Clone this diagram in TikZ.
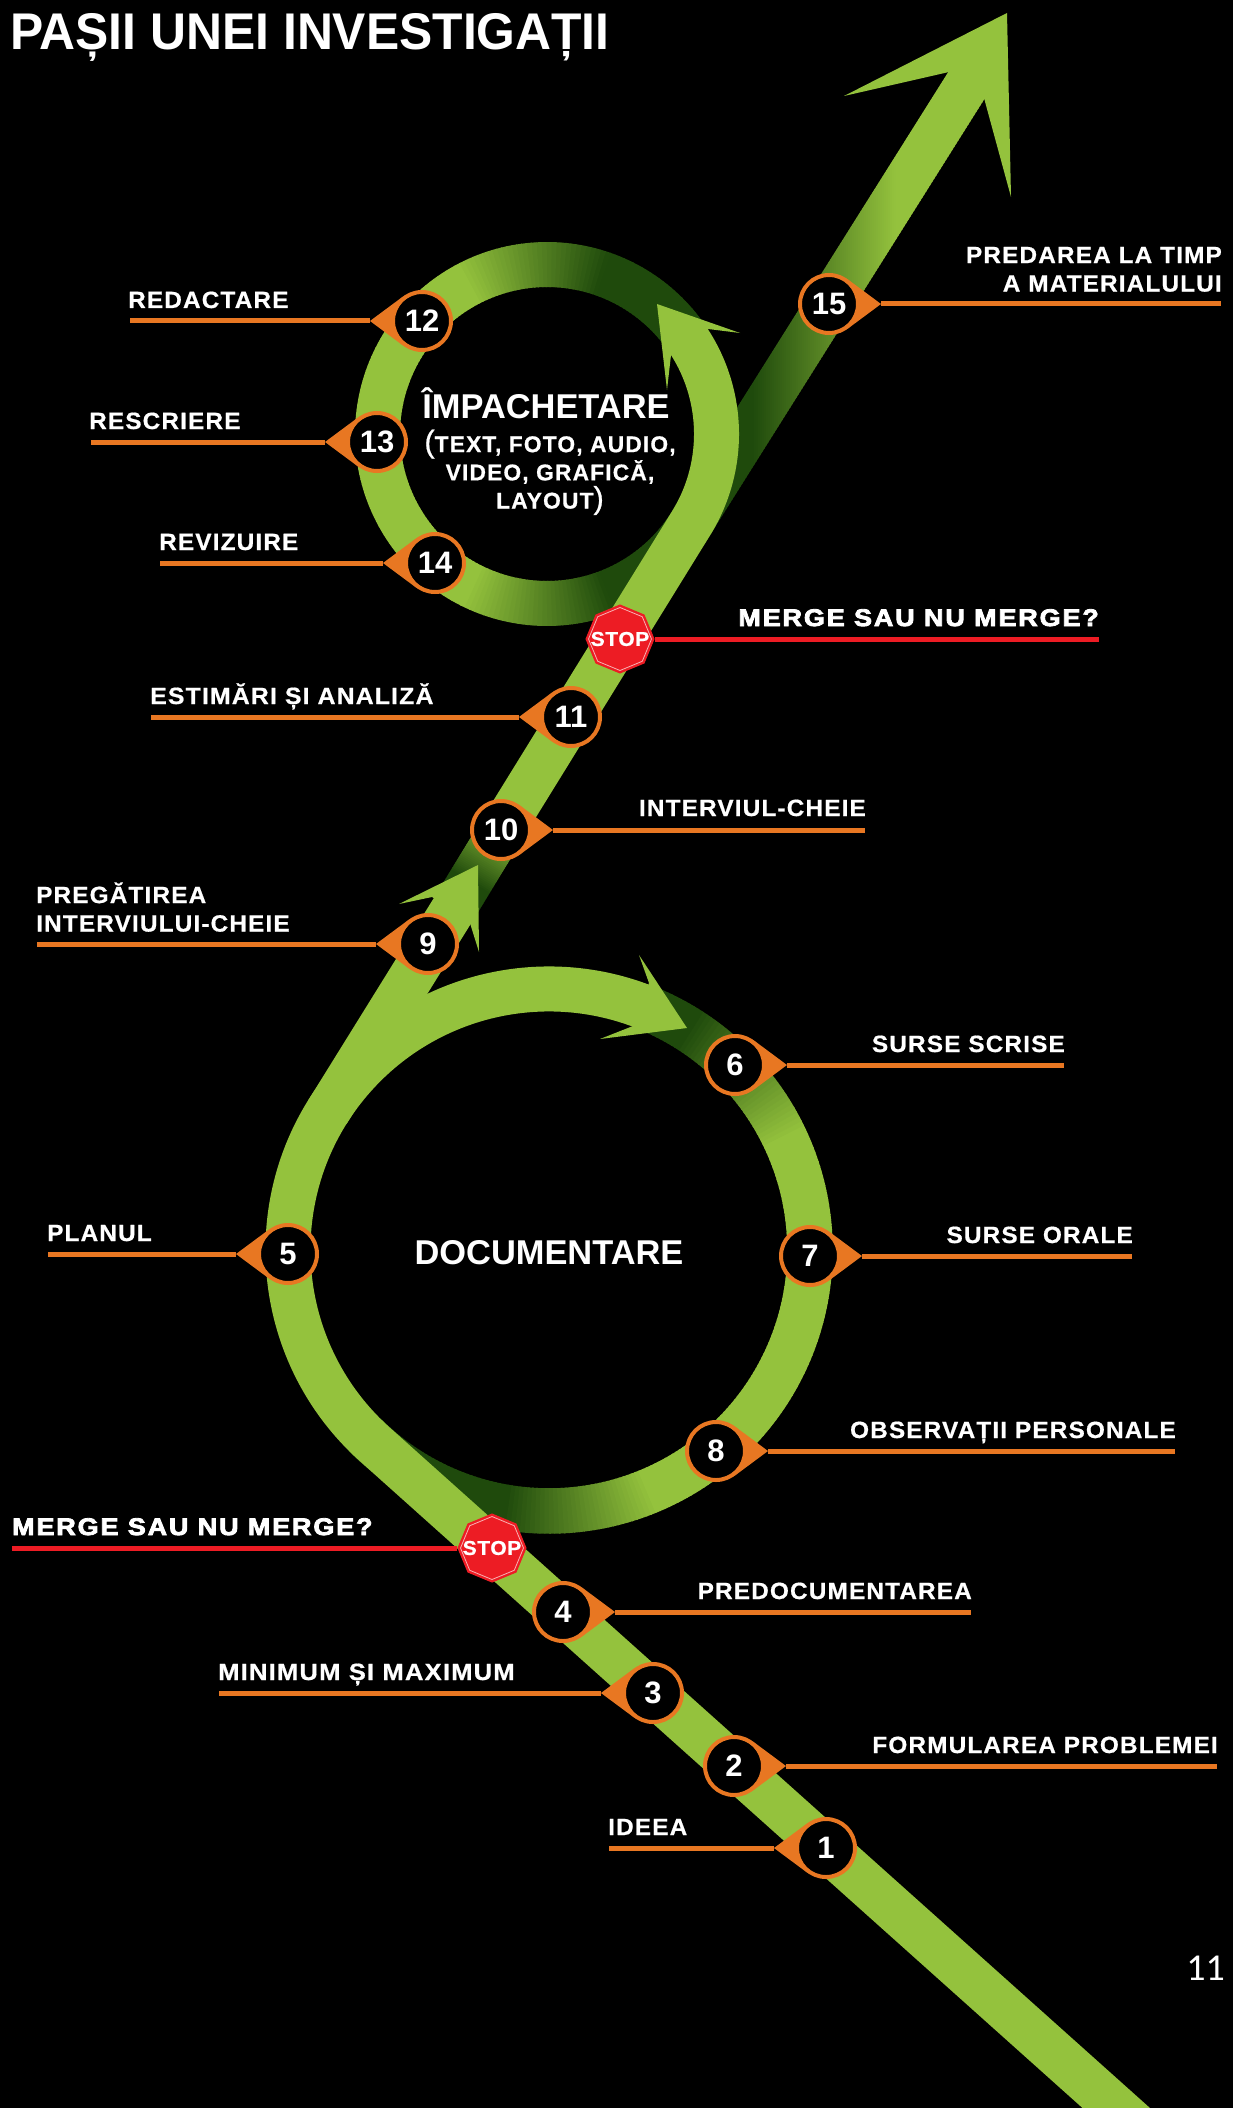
\documentclass[tikz,border=0pt]{standalone}
\usepackage{fontspec}
\setmainfont{Liberation Sans}
\newfontfamily\labfont[LetterSpace=5,FakeStretch=1.035,FakeBold=0.7]{Liberation Sans}
\newfontfamily\labwide[LetterSpace=5,FakeStretch=1.09,FakeBold=0.7]{Liberation Sans}
\newfontfamily\labmid[LetterSpace=5,FakeStretch=1.055,FakeBold=0.7]{Liberation Sans}
\newfontfamily\subfont[LetterSpace=5,FakeBold=0.7]{Liberation Sans}
\newfontfamily\heavyfont[LetterSpace=8,FakeBold=3.5,FakeStretch=1.12]{Liberation Sans}
\newfontfamily\titlefont[FakeStretch=0.965]{Liberation Sans}
\newfontfamily\stopfont[LetterSpace=3,FakeBold=0.8,FakeStretch=1.05]{Liberation Sans}
\newfontfamily\pagefont{Carlito}
\usetikzlibrary{calc,shapes.geometric}
\definecolor{glight}{HTML}{94C23D}
\definecolor{gdark}{HTML}{1F4A0C}
\definecolor{morange}{HTML}{E87722}
\definecolor{mred}{HTML}{ED1C24}
\tikzset{
  bandline/.style={line width=45pt,draw=glight},
  arrowfill/.style={fill=glight},
  tearfill/.style={fill=morange},
  stepnum/.style={circle,draw=morange,line width=4pt,fill=black,minimum size=58pt,inner sep=0pt,text=white,font=\bfseries\fontsize{31}{31}\selectfont},
  leader/.style={draw=morange,line width=5pt},
  stopline/.style={draw=mred,line width=5pt},
  lab/.style={inner sep=0pt,text=white,font=\labfont\bfseries\fontsize{23.5}{28.5}\selectfont},
  heavy/.style={inner sep=0pt,text=white,font=\heavyfont\bfseries\fontsize{24}{24}\selectfont},
  stopouter/.style={regular polygon,regular polygon sides=8,regular polygon rotate=22.5,fill=mred,draw=mred,line width=1pt,minimum size=68pt,inner sep=0pt},
  stopinner/.style={regular polygon,regular polygon sides=8,regular polygon rotate=22.5,fill=mred,draw=white!65!mred,line width=.8pt,minimum size=63pt,inner sep=0pt},
  stoptext/.style={inner sep=0pt,text=white,font=\stopfont\bfseries\fontsize{20}{20}\selectfont},
  centertitle/.style={inner sep=0pt,text=white,font=\bfseries\fontsize{34.4}{34}\selectfont},
}
\newcommand\stepmark[4]{%
  \coordinate (c#1) at (#2,#3);
  \coordinate (t#1) at ($(c#1)+(#4:52pt)$);
  \fill[tearfill] (t#1) -- ($(c#1)+(#4+53.4:31pt)$) -- ($(c#1)+(#4-53.4:31pt)$) -- cycle;
  \node[stepnum] (n#1) at (c#1) {#1};
}
\newcommand\thinparen[1]{{\mdseries\fontsize{31}{28}\selectfont #1}}
\begin{document}
\begin{tikzpicture}[x=1pt,y=-1pt]
\useasboundingbox (0,0) rectangle (1233,2108);
\fill[black] (0,0) rectangle (1233,2108);
\clip (0,0) rectangle (1233,2108);
% key points
\coordinate (cb) at (549,1250);
\coordinate (cs) at (547,434);
\coordinate (start) at (1152,2140);
\coordinate (t0) at (375,1444.5);
\coordinate (t1) at (327.3,1112.3);
\coordinate (s1) at (456,905);
\coordinate (s2) at (504.7,825);
\coordinate (t2) at (691,523.4);
% upper band with gradient
\foreach \x in {700,702,...,984}{
  \pgfmathsetmacro\p{max(0,min(100,(\x-752)/1.43))}
  \pgfmathsetmacro\xb{\x+2.6}
  \pgfmathsetmacro\ya{max(45,511-1.589*(\x-672))}
  \pgfmathsetmacro\yb{max(45,511-1.589*(\xb-672))}
  \pgfmathsetmacro\yc{535-1.589*(\xb-710)}
  \pgfmathsetmacro\yd{535-1.589*(\x-710)}
  \fill[glight!\p!gdark] (\x,\ya) -- (\xb,\yb) -- (\xb,\yc) -- (\x,\yd) -- cycle;
}
\fill[arrowfill] (1007,13) -- (844,96) -- (949,72) -- (984,98) -- (1011,197) -- cycle;
% small ring, gradient part
\foreach \a in {36,37.5,...,331}{
  \pgfmathsetmacro\p{max(0,min(100,\a<180 ? (\a-70)/0.47 : (290-\a)/0.47))}
  \draw[line width=45pt,glight!\p!gdark] ([shift={(cs)}]\a:169.5pt) arc[start angle=\a,end angle=\a+1.9,radius=169.5pt];
}
% big ring, gradient part
\foreach \a in {-135,-134,...,66}{
  \pgfmathsetmacro\p{max(0,min(100,\a>0 ? (57-\a)/0.32 : (\a+100)/0.32))}
  \draw[line width=45.5pt,glight!\p!gdark] ([shift={(cb)}]\a:261pt) arc[start angle=\a,end angle=\a+1.3,radius=261pt];
}
% middle band
\foreach \q in {0,0.02,...,1}{
  \pgfmathsetmacro\p{max(0,min(100,(\q-0.28)/0.0072))}
  \pgfmathsetmacro\qb{\q+0.03}
  \draw[bandline,draw=glight!\p!gdark] ($(s1)!\q!(s2)$) -- ($(s1)!\qb!(s2)$);
}
\draw[bandline] (s2) -- (t2) arc[start angle=-31.84,end angle=35,radius=169.5pt];
\fill[arrowfill] (657,304) -- (740,333) -- (708,329) -- (671,355) -- (667,390) -- cycle;
% lower band and big ring, light part
\draw[bandline] (start) -- (t0) arc[start angle=228.2,end angle=68,radius=261pt];
\draw[bandline] (t1) -- (s1);
\fill[arrowfill] (687,1028) -- (639,955) -- (649,983) -- (633,1026) -- (600,1039) -- cycle;
\fill[arrowfill] (478,865) -- (399,904) -- (432,897) -- (469,920) -- (479,952) -- cycle;
% centre texts
\node[centertitle] (tdoc) at (549,1253) {DOCUMENTARE};
\node[centertitle,anchor=base] (timp) at (546,418) {ÎMPACHETARE};
\node[lab,anchor=north,align=center,font=\subfont\bfseries\fontsize{22.8}{28.2}\selectfont] (tsub) at (550,429.5) {\thinparen{(}TEXT, FOTO, AUDIO,\\VIDEO, GRAFICĂ,\\LAYOUT\thinparen{)}};
% title, page number
\node[inner sep=0pt,anchor=base west,text=white,font=\titlefont\bfseries\fontsize{51.6}{52}\selectfont] (title) at (10,50) {PAȘII UNEI INVESTIGAȚII};
\node[inner sep=0pt,anchor=base east,text=white,font=\pagefont\fontsize{38}{38}\selectfont] (pageno) at (1225,1980) {11};
% numbered markers
\stepmark{1}{826}{1848}{180}
\stepmark{2}{734}{1766}{0}
\stepmark{3}{653}{1693}{180}
\stepmark{4}{563}{1612}{0}
\stepmark{5}{288}{1254}{180}
\stepmark{6}{735}{1065}{0}
\stepmark{7}{810}{1256}{0}
\stepmark{8}{716}{1451}{0}
\stepmark{9}{428}{944}{180}
\stepmark{10}{501}{830}{0}
\stepmark{11}{571}{717}{180}
\stepmark{12}{422}{321}{180}
\stepmark{13}{377}{442}{180}
\stepmark{14}{435}{563}{180}
\stepmark{15}{829}{304}{0}
% leader ends
\coordinate (e1) at (609,1848);
\coordinate (e2) at (1217,1766);
\coordinate (e3) at (219,1693);
\coordinate (e4) at (971,1612);
\coordinate (e5) at (48,1254);
\coordinate (e6) at (1064,1065);
\coordinate (e7) at (1132,1256);
\coordinate (e8) at (1175,1451);
\coordinate (e9) at (37,944);
\coordinate (e10) at (865,830);
\coordinate (e11) at (151,717);
\coordinate (e12) at (130,321);
\coordinate (e13) at (91,442);
\coordinate (e14) at (160,563);
\coordinate (e15) at (1221,304);
\foreach \i in {1,...,15}{\draw[leader] (t\i) -- (e\i);}
% labels
\node[lab,anchor=base west] (l1) at (608,1835) {IDEEA};
\node[lab,anchor=base east] (l2) at (1218,1753) {FORMULAREA PROBLEMEI};
\node[lab,anchor=base west,font=\labwide\bfseries\fontsize{23.5}{28.5}\selectfont] (l3) at (218,1680) {MINIMUM ȘI MAXIMUM};
\node[lab,anchor=base east] (l4) at (972,1599) {PREDOCUMENTAREA};
\node[lab,anchor=base west] (l5) at (47,1241) {PLANUL};
\node[lab,anchor=base east] (l6) at (1065,1052) {SURSE SCRISE};
\node[lab,anchor=base east] (l7) at (1133,1243) {SURSE ORALE};
\node[lab,anchor=base east] (l8) at (1176,1438) {OBSERVAȚII PERSONALE};
\node[lab,anchor=south west,align=left] (l9) at (36,932) {PREGĂTIREA\\INTERVIULUI-CHEIE};
\node[lab,anchor=base east] (l10) at (866,816) {INTERVIUL-CHEIE};
\node[lab,anchor=base west,font=\labmid\bfseries\fontsize{23.5}{28.5}\selectfont] (l11) at (150,704) {ESTIMĂRI ȘI ANALIZĂ};
\node[lab,anchor=base west] (l12) at (128,308) {REDACTARE};
\node[lab,anchor=base west] (l13) at (89,429) {RESCRIERE};
\node[lab,anchor=base west] (l14) at (159,550) {REVIZUIRE};
\node[lab,anchor=south east,align=right] (l15) at (1222,292) {PREDAREA LA TIMP\\A MATERIALULUI};
% stops
\node[stopouter] (stopa) at (620,639) {};
\node[stopinner] (stopainner) at (stopa) {};
\node[stoptext] (stopatext) at (stopa) {STOP};
\coordinate (enda) at (1099,639);
\draw[stopline] (stopa.east) -- (enda);
\node[heavy,anchor=base east] (heavya) at (1099,626) {MERGE SAU NU MERGE?};
\node[stopouter] (stopb) at (492,1548) {};
\node[stopinner] (stopbinner) at (stopb) {};
\node[stoptext] (stopbtext) at (stopb) {STOP};
\coordinate (endb) at (12,1548);
\draw[stopline] (stopb.west) -- (endb);
\node[heavy,anchor=base west] (heavyb) at (12,1535) {MERGE SAU NU MERGE?};
\end{tikzpicture}
\end{document}
